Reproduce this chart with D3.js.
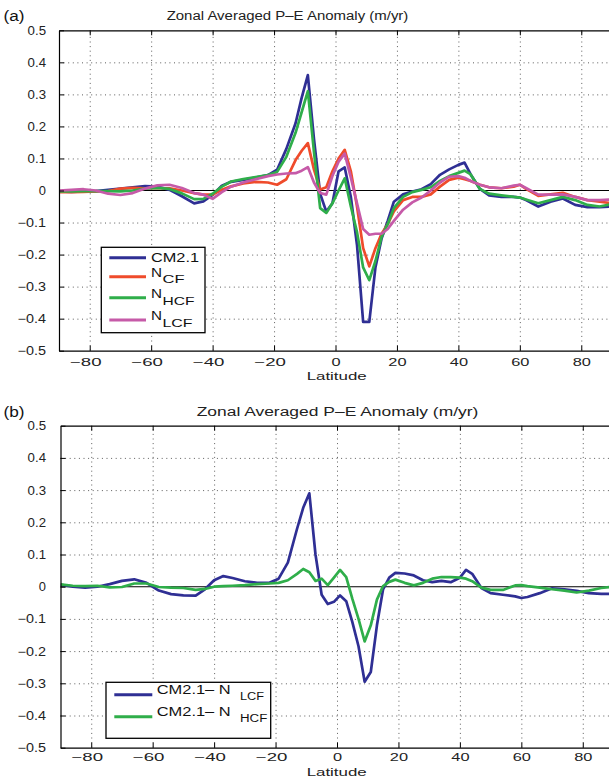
<!DOCTYPE html>
<html><head><meta charset="utf-8">
<script src="https://cdn.jsdelivr.net/npm/d3@7/dist/d3.min.js"></script>
<style>body{margin:0;background:#fff}svg{display:block}</style>
</head><body>
<svg id="chart" width="609" height="778"></svg>
<script>
// ---------------- data ----------------
const lat = [-90,-86,-82,-78,-74,-70,-66,-62,-58,-54,-50,-46,-43,-40,-37,-34,-30,-26,-22,-19,-16,-13,-11,-9,-7,-5,-3,-1,1,3,5,7,9,11,13,15,17,19,22,25,28,31,34,37,40,42,44,47,50,54,58,60,62,66,70,74,78,82,86,90];

const cm21 = [-0.003,-0.004,-0.003,-0.002,0.002,0.006,0.010,0.014,0.012,0.002,
  -0.018,-0.040,-0.034,-0.014,0.015,0.027,0.033,0.040,0.048,0.065,
  0.130,0.210,0.290,0.360,0.160,-0.010,-0.066,-0.040,0.060,0.072,
  -0.020,-0.170,-0.410,-0.410,-0.240,-0.150,-0.095,-0.035,-0.012,-0.003,
  0.004,0.020,0.049,0.066,0.080,0.087,0.050,0.005,-0.015,-0.020,
  -0.020,-0.022,-0.030,-0.050,-0.035,-0.025,-0.045,-0.052,-0.052,-0.050];

const nCF = [-0.005,-0.005,-0.004,-0.003,-0.002,0.006,0.008,0.007,0.007,0.007,
  0.000,-0.008,-0.013,-0.013,0.002,0.013,0.022,0.027,0.025,0.018,
  0.035,0.095,0.124,0.148,0.065,0.003,0.010,0.060,0.100,0.127,
  0.060,-0.050,-0.180,-0.237,-0.180,-0.135,-0.105,-0.065,-0.030,-0.020,
  -0.020,-0.012,0.012,0.033,0.040,0.035,0.030,0.018,0.010,0.007,
  0.012,0.018,0.005,-0.017,-0.012,-0.007,-0.020,-0.030,-0.035,-0.040];

const nHCF = [-0.003,-0.003,-0.002,-0.002,-0.002,-0.003,0.000,0.006,0.008,0.005,
  -0.009,-0.027,-0.026,-0.010,0.012,0.028,0.036,0.042,0.048,0.058,
  0.105,0.180,0.245,0.310,0.120,-0.055,-0.070,-0.040,0.000,0.038,
  -0.050,-0.130,-0.240,-0.280,-0.220,-0.145,-0.105,-0.055,-0.020,-0.005,
  0.002,0.010,0.030,0.045,0.055,0.062,0.050,0.005,-0.010,-0.015,
  -0.020,-0.022,-0.028,-0.040,-0.030,-0.020,-0.030,-0.045,-0.050,-0.042];

const nLCF = [0.000,0.002,0.004,0.000,-0.010,-0.014,-0.008,0.006,0.016,0.018,
  0.008,-0.008,-0.013,-0.026,-0.005,0.012,0.025,0.035,0.045,0.050,
  0.053,0.054,0.062,0.073,0.025,-0.008,-0.013,0.045,0.090,0.115,
  0.040,-0.040,-0.120,-0.138,-0.135,-0.135,-0.120,-0.095,-0.060,-0.037,
  -0.022,0.000,0.025,0.043,0.045,0.040,0.030,0.018,0.010,0.007,
  0.015,0.018,0.008,-0.013,-0.013,-0.012,-0.020,-0.030,-0.030,-0.028];

const diffLCF = [0.006,0.000,-0.003,0.000,0.008,0.018,0.023,0.012,-0.012,-0.023,
  -0.027,-0.028,-0.008,0.020,0.033,0.027,0.017,0.012,0.012,0.025,
  0.075,0.180,0.245,0.290,0.100,-0.025,-0.054,-0.047,-0.027,-0.045,
  -0.110,-0.185,-0.295,-0.265,-0.120,-0.008,0.028,0.043,0.041,0.035,
  0.020,0.014,0.018,0.014,0.028,0.052,0.040,-0.004,-0.020,-0.025,
  -0.030,-0.035,-0.032,-0.020,-0.005,-0.008,-0.013,-0.020,-0.022,-0.022];

const diffHCF = [0.007,0.003,0.002,0.003,-0.002,-0.001,0.010,0.010,-0.001,-0.003,
  -0.004,-0.010,-0.007,0.000,0.002,0.003,0.005,0.008,0.010,0.012,
  0.020,0.040,0.055,0.045,0.018,0.025,0.005,0.028,0.052,0.030,
  -0.038,-0.100,-0.170,-0.120,-0.040,0.002,0.015,0.022,0.012,0.004,
  0.012,0.025,0.030,0.030,0.028,0.025,0.017,-0.003,-0.010,-0.010,
  0.004,0.005,0.002,-0.003,-0.008,-0.012,-0.018,-0.012,-0.004,0.000];

const xTicks = [-80,-60,-40,-20,0,20,40,60,80];
const yTicks = [-0.5,-0.4,-0.3,-0.2,-0.1,0,0.1,0.2,0.3,0.4,0.5];
const titleText = "Zonal Averaged P\u2013E Anomaly (m/yr)";
const xLabelText = "Latitude";

const C_BLUE = "#2f2f94", C_RED = "#ef4b2b", C_GREEN = "#2fae4a", C_MAG = "#c65aa8";

// ---------------- drawing ----------------
const svg = d3.select("#chart");
const FONT = "'Liberation Sans', Arial, Helvetica, sans-serif";

function fmtY(v){ if (Math.abs(v) < 1e-9) return "0"; return (v < 0 ? "\u2212" : "") + Math.abs(v).toFixed(1); }
function fmtX(v){ return (v < 0 ? "\u2212" : "") + Math.abs(v); }
function widthOf(s, digit, minus, dot){ let w = 0; for (const c of s){ if (c === "\u2212") w += minus; else if (c === ".") w += dot; else w += digit; } return w; }

function panel(cfg){
  const g = svg.append("g");
  const x = d3.scaleLinear().domain([-90, 90]).range([cfg.x0, cfg.x1]);
  const y = d3.scaleLinear().domain([-0.5, 0.5]).range([cfg.yB, cfg.yT]);
  const h = cfg.yB - cfg.yT, w = cfg.x1 - cfg.x0;

  // dotted grid
  const gx = g.append("g").attr("transform", `translate(0,${cfg.yB})`)
    .call(d3.axisBottom(x).tickValues(xTicks).tickSize(-h).tickFormat(""));
  gx.select(".domain").remove();
  gx.selectAll("line").attr("stroke", "#333").attr("stroke-width", 0.8).attr("stroke-dasharray", "1,3.6");
  const gy = g.append("g").attr("transform", `translate(${cfg.x0},0)`)
    .call(d3.axisLeft(y).tickValues(yTicks.filter(v => Math.abs(v) < 0.45 && Math.abs(v) > 1e-9)).tickSize(-w).tickFormat(""));
  gy.select(".domain").remove();
  gy.selectAll("line").attr("stroke", "#333").attr("stroke-width", 0.8).attr("stroke-dasharray", "1,3.6");

  // zero line
  g.append("line").attr("x1", cfg.x0).attr("x2", cfg.x1).attr("y1", y(0)).attr("y2", y(0))
    .attr("stroke", "#000").attr("stroke-width", 1.1);

  // clip
  const clipId = "clip" + cfg.id;
  svg.append("clipPath").attr("id", clipId).append("rect")
    .attr("x", cfg.x0).attr("y", cfg.yT).attr("width", w).attr("height", h);

  const line = d3.line().x((d, i) => x(lat[i])).y(d => y(d));
  cfg.series.forEach(s => {
    g.append("path").datum(s.values)
      .attr("clip-path", `url(#${clipId})`)
      .attr("fill", "none").attr("stroke", s.color).attr("stroke-width", 2.7)
      .attr("stroke-linejoin", "round").attr("d", line);
  });

  // axes
  const top = g.append("g").attr("transform", `translate(0,${cfg.yT})`)
    .call(d3.axisTop(x).tickValues(xTicks).tickSizeInner(-5).tickSizeOuter(0).tickFormat(""));
  const bot = g.append("g").attr("transform", `translate(0,${cfg.yB})`)
    .call(d3.axisBottom(x).tickValues(xTicks).tickSizeInner(-5).tickSizeOuter(0).tickFormat(fmtX));
  const left = g.append("g").attr("transform", `translate(${cfg.x0},0)`)
    .call(d3.axisLeft(y).tickValues(yTicks).tickSizeInner(-5).tickSizeOuter(0).tickFormat(fmtY));
  [top, bot, left].forEach(a => {
    a.select(".domain").attr("stroke", "#000").attr("stroke-width", 1.2);
    a.selectAll(".tick line").attr("stroke", "#000").attr("stroke-width", 1);
  });
  bot.selectAll(".tick text")
    .attr("font-family", FONT).attr("font-size", 11.5).attr("fill", "#222")
    .attr("y", cfg.xLabBase - cfg.yB).attr("dy", 0)
    .attr("x", d => d < 0 ? -4.5 : 0)
    .attr("textLength", function(d){ return widthOf(fmtX(d), 9.1, 13.4, 4); })
    .attr("lengthAdjust", "spacingAndGlyphs");
  left.selectAll(".tick text")
    .attr("font-family", FONT).attr("font-size", 12).attr("fill", "#222")
    .attr("x", 46 - cfg.x0).attr("dy", "0.34em")
    .attr("textLength", function(d){ return widthOf(fmtY(d), 7.2, 10, 4); })
    .attr("lengthAdjust", "spacingAndGlyphs");
  [bot, left].forEach(a => a.attr("font-family", null).attr("font-size", null));

  // title, panel letter, x label
  svg.append("text").attr("x", cfg.titleX).attr("y", cfg.titleY).attr("text-anchor", "middle")
    .attr("font-family", FONT).attr("font-size", 12.5).attr("fill", "#222")
    .attr("textLength", cfg.titleW).attr("lengthAdjust", "spacingAndGlyphs").text(titleText);
  svg.append("text").attr("x", 3.5).attr("y", cfg.letterY)
    .attr("font-family", FONT).attr("font-size", 15.5).attr("fill", "#111")
    .attr("textLength", 21).attr("lengthAdjust", "spacingAndGlyphs").text(cfg.letter);
  svg.append("text").attr("x", 336.7).attr("y", cfg.latBase).attr("text-anchor", "middle")
    .attr("font-family", FONT).attr("font-size", 11.5).attr("fill", "#222")
    .attr("textLength", 60).attr("lengthAdjust", "spacingAndGlyphs").text(xLabelText);

  // legend
  const L = cfg.legend;
  const lg = svg.append("g");
  lg.append("rect").attr("x", L.x).attr("y", L.y).attr("width", L.w).attr("height", L.h)
    .attr("fill", "#fff").attr("stroke", "#000").attr("stroke-width", 1.3);
  L.items.forEach(it => {
    lg.append("line").attr("x1", L.lx0).attr("x2", L.lx1).attr("y1", it.ly).attr("y2", it.ly)
      .attr("stroke", it.color).attr("stroke-width", 3);
    lg.append("text").attr("x", L.tx).attr("y", it.base)
      .attr("font-family", FONT).attr("font-size", it.fs || L.fs).attr("fill", "#111")
      .attr("textLength", it.mainW).attr("lengthAdjust", "spacingAndGlyphs").text(it.main);
    if (it.sub) {
      lg.append("text").attr("x", it.subX).attr("y", it.subBase)
        .attr("font-family", FONT).attr("font-size", L.sfs).attr("fill", "#111")
        .attr("textLength", it.subW).attr("lengthAdjust", "spacingAndGlyphs").text(it.sub);
    }
  });
}

panel({
  id: "a", x0: 59, x1: 612, yT: 30.3, yB: 350.7,
  titleX: 287.5, titleW: 241.7, titleY: 20, letter: "(a)", letterY: 21,
  xLabBase: 366, latBase: 380,
  series: [
    {values: cm21, color: C_BLUE},
    {values: nCF, color: C_RED},
    {values: nHCF, color: C_GREEN},
    {values: nLCF, color: C_MAG}
  ],
  legend: {
    x: 101.3, y: 247.3, w: 103.7, h: 85.4, lx0: 109.3, lx1: 146, tx: 151, fs: 13, sfs: 10.5,
    items: [
      {color: C_BLUE, ly: 257.7, main: "CM2.1", mainW: 48, base: 262.2, fs: 13.5},
      {color: C_RED, ly: 276.7, main: "N", mainW: 11, base: 276.5, sub: "CF", subX: 162.5, subW: 22, subBase: 283},
      {color: C_GREEN, ly: 297.7, main: "N", mainW: 11, base: 298.3, sub: "HCF", subX: 162.5, subW: 32, subBase: 305},
      {color: C_MAG, ly: 320, main: "N", mainW: 11, base: 320, sub: "LCF", subX: 162.5, subW: 30, subBase: 326.5}
    ]
  }
});

panel({
  id: "b", x0: 60.5, x1: 613.5, yT: 425.7, yB: 747.7,
  titleX: 337.5, titleW: 281.7, titleY: 416, letter: "(b)", letterY: 417,
  xLabBase: 761.5, latBase: 776,
  series: [
    {values: diffLCF, color: C_BLUE},
    {values: diffHCF, color: C_GREEN}
  ],
  legend: {
    x: 106, y: 682.3, w: 164.7, h: 56, lx0: 114.3, lx1: 152.3, tx: 156.7, fs: 12, sfs: 10,
    items: [
      {color: C_BLUE, ly: 694.7, main: "CM2.1\u2013 N", mainW: 74, base: 694.3, sub: "LCF", subX: 240, subW: 24, subBase: 700},
      {color: C_GREEN, ly: 716.7, main: "CM2.1\u2013 N", mainW: 74, base: 716, sub: "HCF", subX: 240, subW: 27.3, subBase: 722.3}
    ]
  }
});
</script>
</body></html>
